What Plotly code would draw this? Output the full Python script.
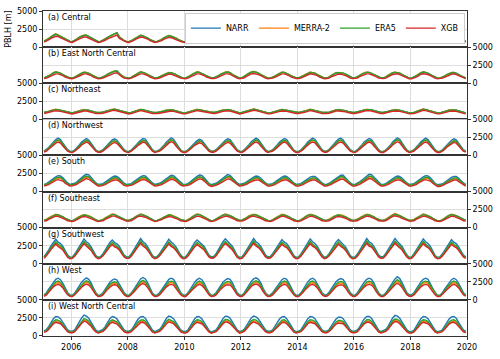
import pandas as pd
import plotly.graph_objects as go
from plotly.subplots import make_subplots

# monthly mean PBLH, Jan 2005 .. Dec 2019, one row per year, units of 10 m
regions = ["Central", "East North Central", "Northeast", "Northwest", "South",
           "Southeast", "Southwest", "West", "West North Central"]
products = ["NARR", "MERRA-2", "ERA5", "XGB"]
colors = ["#1f77b4", "#ff7f0e", "#2ca02c", "#d62728"]

central_narr = [
    [85,95,115,140,160,175,165,150,130,110,90,80], [75,90,110,135,150,160,165,145,125,105,85,75],
    [80,95,110,130,150,165,180,200,140,115,90,80], [75,85,105,125,145,160,155,145,125,105,85,75],
    [80,90,105,125,140,155,150,140,125,105,85,75], [75,90,110,135,150,165,160,150,130,110,90,80],
    [80,95,110,130,150,160,165,155,130,110,90,75], [80,100,125,150,165,175,170,150,125,105,85,75],
    [75,85,100,125,145,155,160,150,130,110,90,80], [80,90,105,130,145,160,155,145,130,110,85,75],
    [80,95,115,135,150,155,150,145,135,115,95,80], [80,95,115,135,150,160,160,150,130,115,90,80],
    [80,95,115,135,150,160,155,150,130,110,90,75], [75,85,105,130,155,165,160,150,130,110,85,75],
    [75,85,100,125,140,150,155,150,130,110,90,80]]
central_merra = [
    [85,100,120,145,170,185,170,150,130,110,90,80], [75,90,115,140,155,165,165,145,125,105,85,75],
    [80,95,115,135,155,170,180,190,140,115,90,80], [75,90,110,130,150,165,155,145,125,105,85,75],
    [80,90,110,130,145,160,150,140,125,105,85,75], [75,90,115,140,155,170,160,150,130,110,90,80],
    [80,95,115,135,155,165,165,155,130,110,90,75], [80,100,130,155,170,180,170,150,125,105,85,75],
    [75,90,105,130,150,160,160,150,130,110,90,80], [80,90,110,135,150,165,155,145,130,110,85,75],
    [80,95,120,140,155,160,150,145,135,115,95,80], [80,95,120,140,155,165,160,150,130,115,90,80],
    [80,95,120,140,155,165,160,150,130,110,90,75], [75,90,110,135,160,170,160,150,130,110,85,75],
    [75,85,105,130,145,155,155,150,130,110,90,80]]
central_era5 = [
    [85,95,120,145,165,180,170,150,130,110,90,80], [75,90,110,140,155,165,165,145,125,105,85,75],
    [80,95,110,135,155,170,185,195,140,115,90,80], [75,85,105,130,150,165,155,145,125,105,85,75],
    [80,90,105,130,145,160,150,140,125,105,85,75], [75,90,110,135,155,170,160,150,130,110,90,80],
    [80,95,110,135,155,165,165,155,130,110,90,75], [80,100,125,155,170,180,170,150,125,105,85,75],
    [75,85,100,130,150,160,160,150,130,110,90,80], [80,90,105,130,150,165,155,145,130,110,85,75],
    [80,95,115,140,155,160,150,145,135,115,95,80], [80,95,115,140,155,165,160,150,130,115,90,80],
    [80,95,115,140,155,165,155,150,130,110,90,75], [75,85,105,135,160,170,160,150,130,110,85,75],
    [75,85,100,130,145,155,155,150,130,110,90,80]]
central_xgb = [
    [70,80,100,120,140,150,145,130,115,95,75,70], [65,75,95,115,130,140,140,125,110,90,75,65],
    [70,80,95,115,130,145,155,165,120,100,80,70], [65,75,90,110,125,140,135,125,110,90,75,65],
    [70,75,90,110,120,135,130,120,110,90,75,65], [65,75,95,115,130,145,140,130,115,95,80,70],
    [70,80,95,115,130,140,140,135,115,95,80,65], [70,85,110,130,145,150,145,130,110,90,75,65],
    [65,75,85,110,125,135,140,130,115,95,80,70], [70,75,90,110,125,140,135,125,115,95,75,65],
    [70,80,100,120,130,135,130,125,115,100,80,70], [70,80,100,120,130,140,140,130,115,100,80,70],
    [70,80,100,120,130,140,135,130,115,95,80,65], [65,75,90,115,135,145,140,130,115,95,75,65],
    [65,75,85,110,120,130,135,130,115,95,80,70]]

enc_narr = [
    [75,85,100,120,140,155,150,140,120,100,85,75], [70,80,100,120,135,150,150,140,120,100,80,70],
    [75,85,100,120,140,155,165,170,130,105,85,75], [70,80,95,115,135,155,150,140,120,100,80,70],
    [75,85,100,115,130,145,145,135,120,100,80,70], [70,80,100,120,140,155,150,140,120,100,85,75],
    [75,85,100,120,140,150,155,145,120,100,85,70], [75,90,115,135,150,160,155,140,120,100,80,70],
    [70,80,95,115,135,150,150,140,120,100,85,75], [75,85,100,120,135,150,145,140,120,100,80,70],
    [75,85,105,125,140,145,145,140,125,105,85,75], [75,85,105,125,140,150,150,140,120,105,85,75],
    [75,85,105,125,140,150,150,140,120,100,85,70], [70,80,100,120,145,155,150,140,120,100,80,70],
    [70,80,95,115,130,145,150,140,120,100,85,75]]
enc_merra = [
    [75,85,105,125,145,160,150,140,120,100,85,75], [70,80,105,125,140,155,150,140,120,100,80,70],
    [75,85,105,125,145,160,165,165,130,105,85,75], [70,80,100,120,140,160,150,140,120,100,80,70],
    [75,85,105,120,135,150,145,135,120,100,80,70], [70,80,105,125,145,160,150,140,120,100,85,75],
    [75,85,105,125,145,155,155,145,120,100,85,70], [75,90,120,140,155,165,155,140,120,100,80,70],
    [70,80,100,120,140,155,150,140,120,100,85,75], [75,85,105,125,140,155,145,140,120,100,80,70],
    [75,85,110,130,145,150,145,140,125,105,85,75], [75,85,110,130,145,155,150,140,120,105,85,75],
    [75,85,110,130,145,155,150,140,120,100,85,70], [70,80,105,125,150,160,150,140,120,100,80,70],
    [70,80,100,120,135,150,150,140,120,100,85,75]]
enc_era5 = [
    [75,85,100,120,145,155,150,140,120,100,85,75], [70,80,100,120,140,150,150,140,120,100,80,70],
    [75,85,100,125,140,155,165,170,130,105,85,75], [70,80,95,120,140,155,150,140,120,100,80,70],
    [75,85,100,120,135,145,145,135,120,100,80,70], [70,80,100,125,145,155,150,140,120,100,85,75],
    [75,85,100,125,140,150,155,145,120,100,85,70], [75,90,115,135,155,160,155,140,120,100,80,70],
    [70,80,95,120,140,150,150,140,120,100,85,75], [75,85,100,120,140,150,145,140,120,100,80,70],
    [75,85,105,125,145,145,145,140,125,105,85,75], [75,85,105,130,145,150,150,140,120,105,85,75],
    [75,85,105,125,145,150,150,140,120,100,85,70], [70,80,100,125,145,155,150,140,120,100,80,70],
    [70,80,95,120,135,145,150,140,120,100,85,75]]
enc_xgb = [
    [65,70,85,100,120,130,130,120,105,85,70,65], [60,70,85,100,115,130,130,120,105,85,70,60],
    [65,70,85,100,120,130,140,145,110,90,70,65], [60,70,80,100,115,130,130,120,105,85,70,60],
    [65,70,85,100,110,125,125,115,105,85,70,60], [60,70,85,100,120,130,130,120,105,85,70,65],
    [65,70,85,100,120,130,130,125,105,85,70,60], [65,75,95,115,130,135,130,120,105,85,70,60],
    [60,70,80,100,115,130,130,120,105,85,70,65], [65,70,85,100,115,130,125,120,105,85,70,60],
    [65,70,90,105,120,125,125,120,105,90,70,65], [65,70,90,105,120,130,130,120,105,90,70,65],
    [65,70,90,105,120,130,130,120,105,85,70,60], [60,70,85,100,125,130,130,120,105,85,70,60],
    [60,70,80,100,110,125,130,120,105,85,70,65]]

ne_narr = [
    [95,100,110,120,130,135,130,125,115,105,100,95], [90,100,110,120,125,130,130,125,115,105,95,90],
    [95,100,110,115,125,135,140,130,120,110,100,90], [90,95,105,120,130,135,130,125,115,105,95,90],
    [95,100,105,115,125,130,130,125,115,105,95,90], [90,100,110,120,130,135,130,125,115,105,100,95],
    [95,100,110,120,125,130,135,130,120,110,100,90], [95,105,115,125,135,140,135,125,115,105,95,90],
    [90,95,105,115,125,130,130,125,115,105,100,95], [95,100,105,115,125,135,130,125,115,105,95,90],
    [95,100,110,120,130,130,130,130,120,110,100,95], [95,100,110,120,130,135,135,130,120,110,100,95],
    [95,100,110,120,125,130,130,125,120,110,100,90], [90,95,105,120,130,140,135,125,115,105,95,90],
    [90,95,105,115,125,130,130,125,115,105,95,90]]
ne_merra = [
    [95,100,110,125,135,140,135,125,115,105,100,95], [90,100,110,125,130,135,130,125,115,105,95,90],
    [95,100,110,120,130,140,140,130,120,110,100,90], [90,95,105,125,135,140,130,125,115,105,95,90],
    [95,100,105,120,130,135,130,125,115,105,95,90], [90,100,110,125,135,140,130,125,115,105,100,95],
    [95,100,110,125,130,135,135,130,120,110,100,90], [95,105,115,130,140,145,135,125,115,105,95,90],
    [90,95,105,120,130,135,130,125,115,105,100,95], [95,100,105,120,130,140,130,125,115,105,95,90],
    [95,100,110,125,135,135,130,130,120,110,100,95], [95,100,110,125,135,140,135,130,120,110,100,95],
    [95,100,110,125,130,135,130,125,120,110,100,90], [90,95,105,125,135,145,135,125,115,105,95,90],
    [90,95,105,120,130,135,130,125,115,105,95,90]]
ne_era5 = [
    [95,100,110,120,130,135,135,125,115,105,100,95], [90,100,110,120,130,130,130,125,115,105,95,90],
    [95,100,110,120,125,135,140,130,120,110,100,90], [90,95,105,120,130,135,135,125,115,105,95,90],
    [95,100,105,115,125,130,130,125,115,105,95,90], [90,100,110,120,130,135,135,125,115,105,100,95],
    [95,100,110,120,130,130,135,130,120,110,100,90], [95,105,115,125,135,140,135,125,115,105,95,90],
    [90,95,105,115,125,135,130,125,115,105,100,95], [95,100,105,120,125,135,130,125,115,105,95,90],
    [95,100,110,120,130,135,130,130,120,110,100,95], [95,100,110,120,130,135,135,130,120,110,100,95],
    [95,100,110,120,130,130,130,125,120,110,100,90], [90,95,105,120,130,140,135,125,115,105,95,90],
    [90,95,105,115,125,130,130,125,115,105,95,90]]
ne_xgb = [
    [80,85,95,105,115,120,115,110,100,90,85,80], [75,85,95,105,110,115,115,110,100,90,80,75],
    [80,85,95,100,110,120,125,115,105,95,85,75], [75,80,90,105,115,120,115,110,100,90,80,75],
    [80,85,90,100,110,115,115,110,100,90,80,75], [75,85,95,105,115,120,115,110,100,90,85,80],
    [80,85,95,105,110,115,120,115,105,95,85,75], [80,90,100,110,120,125,120,110,100,90,80,75],
    [75,80,90,100,110,115,115,110,100,90,85,80], [80,85,90,100,110,120,115,110,100,90,80,75],
    [80,85,95,105,115,115,115,115,105,95,85,80], [80,85,95,105,115,120,120,115,105,95,85,80],
    [80,85,95,105,110,115,115,110,105,95,85,75], [75,80,90,105,115,125,120,110,100,90,80,75],
    [75,80,90,100,110,115,115,110,100,90,80,75]]

nw_narr = [
    [60,80,110,150,190,220,240,220,170,120,80,60], [55,75,105,145,185,215,235,215,165,115,75,55],
    [60,80,110,150,190,215,230,210,165,115,80,60], [55,75,100,140,180,210,235,225,175,120,80,55],
    [60,80,105,145,185,220,245,225,170,115,75,55], [55,75,105,140,180,205,225,210,165,115,80,60],
    [60,80,110,145,180,210,230,220,175,120,80,60], [55,80,110,150,190,215,240,220,170,120,80,55],
    [60,80,105,145,185,215,235,220,170,115,75,55], [55,75,105,145,185,220,240,225,175,120,80,60],
    [60,85,115,155,195,225,240,215,165,115,80,60], [55,80,110,150,190,215,235,220,170,120,80,55],
    [55,75,100,140,185,220,245,225,170,115,75,55], [60,80,110,150,190,220,240,220,170,115,80,55],
    [55,75,105,145,180,210,230,215,170,120,80,60]]
nw_merra = [
    [55,70,95,130,165,195,210,195,150,105,70,55], [50,65,95,130,165,190,205,190,145,100,65,50],
    [55,70,95,130,165,190,200,185,145,100,70,55], [50,65,90,125,160,185,205,195,155,105,70,50],
    [55,70,95,130,165,195,215,200,150,100,65,50], [50,65,95,125,160,180,200,185,145,100,70,55],
    [55,70,95,130,160,185,200,195,155,105,70,55], [50,70,95,130,165,190,210,195,150,105,70,50],
    [55,70,95,130,165,190,205,195,150,100,65,50], [50,65,95,130,165,195,210,200,155,105,70,55],
    [55,75,100,135,170,200,210,190,145,100,70,55], [50,70,95,130,165,190,205,195,150,105,70,50],
    [50,65,90,125,165,195,215,200,150,100,65,50], [55,70,95,130,165,195,210,195,150,100,70,50],
    [50,65,95,130,160,185,200,190,150,105,70,55]]
nw_era5 = [
    [55,70,100,135,170,200,215,200,155,110,70,55], [50,70,95,130,165,195,210,195,150,105,70,50],
    [55,70,100,135,170,195,205,190,150,105,70,55], [50,70,90,125,160,190,210,200,155,110,70,50],
    [55,70,95,130,165,200,220,200,155,105,70,50], [50,70,95,125,160,185,205,190,150,105,70,55],
    [55,70,100,130,160,190,205,200,155,110,70,55], [50,70,100,135,170,195,215,200,155,110,70,50],
    [55,70,95,130,165,195,210,200,155,105,70,50], [50,70,95,130,165,200,215,205,155,110,70,55],
    [55,75,105,140,175,205,215,195,150,105,70,55], [50,70,100,135,170,195,210,200,155,110,70,50],
    [50,70,90,125,165,200,220,205,155,105,70,50], [55,70,100,135,170,200,215,200,155,105,70,50],
    [50,70,95,130,160,190,205,195,155,110,70,55]]
nw_xgb = [
    [45,60,85,115,150,170,185,170,130,90,60,45], [40,60,80,110,145,170,185,170,130,90,60,45],
    [45,60,85,115,145,165,180,165,130,90,60,45], [40,60,80,110,140,165,185,175,135,95,60,40],
    [45,60,80,115,145,170,190,175,130,90,60,40], [40,60,80,110,140,160,175,165,130,90,60,45],
    [45,60,85,110,140,165,180,170,135,95,60,45], [40,60,85,115,150,170,185,170,130,95,60,40],
    [45,60,80,115,145,170,185,170,130,90,60,40], [40,60,80,115,145,170,185,175,135,95,60,45],
    [45,65,90,120,150,175,185,170,130,90,60,45], [40,60,85,115,150,170,185,170,130,95,60,40],
    [40,60,80,110,145,170,190,175,130,90,60,40], [45,60,85,115,150,170,185,170,130,90,60,40],
    [40,60,80,115,140,165,180,170,130,95,60,45]]

south_narr = [
    [100,110,130,155,185,205,220,215,190,150,120,100], [105,115,135,165,195,220,240,230,195,155,120,100],
    [100,110,130,155,180,200,215,210,185,150,115,100], [100,110,135,160,185,205,220,215,185,150,120,100],
    [105,115,130,155,185,205,225,220,190,150,120,100], [100,110,130,160,190,210,230,225,190,150,115,95],
    [100,115,135,160,190,215,235,225,190,150,120,100], [105,115,135,160,185,200,215,210,185,150,120,100],
    [100,110,130,155,180,200,215,210,185,150,120,100], [100,110,130,155,180,200,210,210,185,150,120,100],
    [100,115,135,160,185,205,225,225,195,155,120,100], [100,115,135,160,185,210,240,235,200,155,120,100],
    [100,110,130,155,180,200,215,210,185,150,120,100], [100,110,130,160,185,205,220,215,190,150,115,95],
    [95,105,125,150,175,195,210,210,185,150,120,100]]
south_merra = [
    [85,95,110,130,155,175,185,185,160,130,100,85], [90,100,115,140,165,185,200,195,165,130,100,85],
    [85,95,110,130,155,170,180,180,155,125,100,85], [85,95,115,135,155,175,185,185,155,130,100,85],
    [90,100,110,130,155,175,190,185,160,130,100,85], [85,95,110,135,160,180,195,190,160,130,100,80],
    [85,100,115,135,160,185,200,190,160,130,100,85], [90,100,115,135,155,170,185,180,155,130,100,85],
    [85,95,110,130,155,170,180,180,155,130,100,85], [85,95,110,130,155,170,180,180,155,130,100,85],
    [85,100,115,135,155,175,190,190,165,130,100,85], [85,100,115,135,155,180,200,200,170,130,100,85],
    [85,95,110,130,155,170,180,180,155,130,100,85], [85,95,110,135,155,175,185,185,160,130,100,80],
    [80,90,105,130,150,165,180,180,155,130,100,85]]
south_era5 = [
    [90,100,115,140,165,185,200,195,170,135,105,90], [95,105,120,150,175,200,215,205,175,140,110,90],
    [90,100,115,140,160,180,195,190,165,135,105,90], [90,100,120,145,165,185,200,195,165,135,110,90],
    [95,105,115,140,165,185,205,200,170,135,110,90], [90,100,115,145,170,190,205,200,170,135,105,85],
    [90,105,120,145,170,195,210,205,170,135,110,90], [95,105,120,145,165,180,195,190,165,135,110,90],
    [90,100,115,140,160,180,195,190,165,135,110,90], [90,100,115,140,160,180,190,190,165,135,110,90],
    [90,105,120,145,165,185,205,205,175,140,110,90], [90,105,120,145,165,190,215,210,180,140,110,90],
    [90,100,115,140,160,180,195,190,165,135,110,90], [90,100,115,145,165,185,200,195,170,135,105,85],
    [85,95,110,135,155,175,190,190,165,135,110,90]]
south_xgb = [
    [75,85,95,115,140,155,165,160,145,115,90,75], [80,85,100,125,145,165,180,170,145,115,90,75],
    [75,85,95,115,135,150,160,160,140,115,85,75], [75,85,100,120,140,155,165,160,140,115,90,75],
    [80,85,95,115,140,155,170,165,145,115,90,75], [75,85,95,120,145,160,175,170,145,115,85,70],
    [75,85,100,120,145,160,175,170,145,115,90,75], [80,85,100,120,140,150,160,160,140,115,90,75],
    [75,85,95,115,135,150,160,160,140,115,90,75], [75,85,95,115,135,150,160,160,140,115,90,75],
    [75,85,100,120,140,155,170,170,145,115,90,75], [75,85,100,120,140,160,180,175,150,115,90,75],
    [75,85,95,115,135,150,160,160,140,115,90,75], [75,85,95,120,140,155,165,160,145,115,85,70],
    [70,80,95,115,130,145,160,160,140,115,90,75]]

se_narr = [
    [100,110,130,150,170,180,175,165,150,130,110,100], [95,110,130,150,165,175,170,160,145,125,110,95],
    [100,110,130,150,170,185,180,165,150,130,110,100], [100,110,130,155,175,185,175,165,150,130,110,95],
    [100,110,125,145,165,175,170,160,150,130,110,100], [95,105,125,150,170,185,180,165,150,130,110,95],
    [100,115,135,155,175,185,175,165,150,130,110,100], [105,115,135,160,175,180,175,160,145,125,110,100],
    [95,105,125,145,165,180,175,165,150,130,110,100], [95,105,125,150,170,180,175,165,150,130,110,100],
    [100,110,130,150,165,175,170,165,150,130,110,100], [100,110,130,150,170,180,175,165,150,130,110,100],
    [100,110,130,155,175,190,180,165,150,130,110,100], [100,110,130,150,170,185,175,165,150,130,110,95],
    [95,105,125,150,170,180,175,165,150,130,110,100]]
se_merra = [
    [100,115,135,155,175,185,180,170,150,130,110,100], [95,110,135,155,170,180,175,165,150,125,110,95],
    [100,115,135,155,175,190,185,170,150,130,110,100], [100,115,135,160,180,190,180,170,150,130,110,95],
    [100,110,130,150,170,180,175,165,150,130,110,100], [95,110,130,155,175,190,185,170,150,130,110,95],
    [100,115,140,160,180,190,180,170,150,130,110,100], [105,120,140,165,180,185,180,165,150,125,110,100],
    [95,110,130,150,170,185,180,170,150,130,110,100], [95,110,130,155,175,185,180,170,150,130,110,100],
    [100,115,135,155,170,180,175,170,150,130,110,100], [100,115,135,155,175,185,180,170,150,130,110,100],
    [100,115,135,160,180,195,185,170,150,130,110,100], [100,115,135,155,175,190,180,170,150,130,110,95],
    [95,110,130,155,175,185,180,170,150,130,110,100]]
se_era5 = [
    [100,110,130,150,170,180,175,165,150,130,110,100], [95,110,130,150,165,175,170,160,145,125,110,95],
    [100,110,130,150,170,180,180,165,150,130,110,100], [100,110,130,150,170,180,175,165,150,130,110,95],
    [100,110,125,145,165,175,170,160,150,130,110,100], [95,105,125,150,170,180,180,165,150,130,110,95],
    [100,115,135,155,175,180,175,165,150,130,110,100], [105,115,135,155,170,180,175,160,145,125,110,100],
    [95,105,125,145,165,175,175,165,150,130,110,100], [95,105,125,150,170,180,175,165,150,130,110,100],
    [100,110,130,150,165,175,170,165,150,130,110,100], [100,110,130,150,170,180,175,165,150,130,110,100],
    [100,110,130,155,175,185,180,165,150,130,110,100], [100,110,130,150,170,180,175,165,150,130,110,95],
    [95,105,125,150,170,180,175,165,150,130,110,100]]
se_xgb = [
    [90,95,115,130,150,160,155,145,130,115,95,90], [85,95,115,130,145,155,150,140,130,110,95,85],
    [90,95,115,130,150,160,160,145,130,115,95,90], [90,95,115,135,155,160,155,145,130,115,95,85],
    [90,95,110,130,145,155,150,140,130,115,95,90], [85,95,110,130,150,160,155,145,130,115,95,85],
    [90,100,120,135,155,160,155,145,130,115,95,90], [90,100,120,140,155,160,155,140,130,110,95,90],
    [85,95,110,130,145,160,155,145,130,115,95,90], [85,95,110,130,150,160,155,145,130,115,95,90],
    [90,95,115,130,145,155,150,145,130,115,95,90], [90,95,115,130,150,160,155,145,130,115,95,90],
    [90,95,115,135,155,165,160,145,130,115,95,90], [90,95,115,130,150,160,155,145,130,115,95,85],
    [85,95,110,130,150,160,155,145,130,115,95,90]]

sw_narr = [
    [100,140,190,250,300,340,300,280,240,180,120,90], [95,135,185,245,300,345,305,280,235,175,115,90],
    [100,140,190,245,295,330,295,275,240,180,120,95], [95,135,185,250,305,350,305,280,235,175,115,90],
    [100,140,190,250,300,340,300,275,235,175,120,90], [95,135,185,245,295,330,300,280,240,180,120,95],
    [100,140,195,255,305,345,310,285,240,180,115,90], [95,140,190,250,305,350,305,280,240,180,120,95],
    [100,140,190,245,295,335,300,280,235,175,115,90], [95,135,185,245,300,345,305,280,240,180,120,90],
    [100,140,190,250,300,335,300,275,235,175,115,90], [95,135,185,250,305,350,305,285,240,180,120,95],
    [100,145,195,255,305,350,310,280,240,180,120,90], [95,140,190,250,300,345,305,280,240,180,115,90],
    [95,135,185,245,295,335,300,280,235,180,120,95]]
sw_merra = [
    [85,115,160,210,250,285,255,235,200,150,100,75], [80,115,155,205,250,290,255,235,195,145,95,75],
    [85,115,160,205,250,275,250,230,200,150,100,80], [80,115,155,210,255,295,255,235,195,145,95,75],
    [85,115,160,210,250,285,250,230,195,145,100,75], [80,115,155,205,250,275,250,235,200,150,100,80],
    [85,115,165,215,255,290,260,240,200,150,95,75], [80,115,160,210,255,295,255,235,200,150,100,80],
    [85,115,160,205,250,280,250,235,195,145,95,75], [80,115,155,205,250,290,255,235,200,150,100,75],
    [85,115,160,210,250,280,250,230,195,145,95,75], [80,115,155,210,255,295,255,240,200,150,100,80],
    [85,120,165,215,255,295,260,235,200,150,100,75], [80,115,160,210,250,290,255,235,200,150,95,75],
    [80,115,155,205,250,280,250,235,195,150,100,80]]
sw_era5 = [
    [90,125,170,225,270,305,270,250,215,160,110,80], [85,120,165,220,270,310,275,250,210,155,105,80],
    [90,125,170,220,265,295,265,245,215,160,110,85], [85,120,165,225,275,315,275,250,210,155,105,80],
    [90,125,170,225,270,305,270,245,210,155,110,80], [85,120,165,220,265,295,270,250,215,160,110,85],
    [90,125,175,230,275,310,280,255,215,160,105,80], [85,125,170,225,275,315,275,250,215,160,110,85],
    [90,125,170,220,265,300,270,250,210,155,105,80], [85,120,165,220,270,310,275,250,215,160,110,80],
    [90,125,170,225,270,300,270,245,210,155,105,80], [85,120,165,225,275,315,275,255,215,160,110,85],
    [90,130,175,230,275,315,280,250,215,160,110,80], [85,125,170,225,270,310,275,250,215,160,105,80],
    [85,120,165,220,265,300,270,250,210,160,110,85]]
sw_xgb = [
    [75,110,150,200,240,275,240,220,190,140,90,70], [75,105,145,195,240,280,245,220,185,135,90,70],
    [80,110,150,195,235,265,235,220,190,140,95,75], [75,105,145,200,245,285,245,225,185,135,90,70],
    [80,110,150,200,240,275,240,220,185,135,95,70], [75,105,145,195,235,265,240,225,190,140,95,75],
    [80,110,155,205,245,280,250,225,190,140,90,70], [75,110,150,200,245,285,245,225,190,140,95,75],
    [80,110,150,195,235,270,240,225,185,135,90,70], [75,105,145,195,240,280,245,225,190,140,95,70],
    [80,110,150,200,240,270,240,220,185,135,90,70], [75,105,145,200,245,285,245,230,190,140,95,75],
    [80,115,155,205,245,285,250,225,190,140,95,70], [75,110,150,200,240,280,245,225,190,140,90,70],
    [75,105,145,195,235,270,240,225,185,140,95,75]]

west_narr = [
    [70,100,150,200,250,285,300,280,230,160,100,70], [65,95,145,195,245,280,305,285,235,165,100,65],
    [70,100,150,200,245,275,290,275,225,160,100,70], [65,95,140,195,250,290,310,290,235,160,95,65],
    [70,100,145,200,250,285,300,285,230,160,100,70], [65,95,145,195,245,280,300,280,230,160,100,65],
    [70,100,150,200,245,275,295,285,235,165,100,70], [65,100,150,205,255,290,305,285,235,160,100,65],
    [70,100,145,195,245,280,300,285,230,160,100,65], [65,95,145,200,250,285,300,280,230,165,100,70],
    [70,105,155,205,250,280,295,280,230,160,100,70], [65,100,150,200,250,285,300,285,235,160,100,65],
    [65,95,145,200,250,290,320,295,235,165,100,70], [70,100,150,200,250,285,300,285,230,160,100,65],
    [65,95,145,195,245,280,300,280,230,160,100,70]]
west_merra = [
    [55,80,120,160,200,230,240,225,185,130,80,55], [50,75,115,155,195,225,245,230,190,130,80,50],
    [55,80,120,160,195,220,230,220,180,130,80,55], [50,75,110,155,200,230,250,230,190,130,75,50],
    [55,80,115,160,200,230,240,230,185,130,80,55], [50,75,115,155,195,225,240,225,185,130,80,50],
    [55,80,120,160,195,220,235,230,190,130,80,55], [50,80,120,165,205,230,245,230,190,130,80,50],
    [55,80,115,155,195,225,240,230,185,130,80,50], [50,75,115,160,200,230,240,225,185,130,80,55],
    [55,85,125,165,200,225,235,225,185,130,80,55], [50,80,120,160,200,230,240,230,190,130,80,50],
    [50,75,115,160,200,230,255,235,190,130,80,55], [55,80,120,160,200,230,240,230,185,130,80,50],
    [50,75,115,155,195,225,240,225,185,130,80,55]]
west_era5 = [
    [60,85,130,175,215,250,260,245,200,140,85,60], [55,85,125,170,215,245,265,250,205,145,85,55],
    [60,85,130,175,215,240,250,240,195,140,85,60], [55,85,120,170,215,250,270,250,205,140,85,55],
    [60,85,125,175,215,250,260,250,200,140,85,60], [55,85,125,170,215,245,260,245,200,140,85,55],
    [60,85,130,175,215,240,255,250,205,145,85,60], [55,85,130,180,220,250,265,250,205,140,85,55],
    [60,85,125,170,215,245,260,250,200,140,85,55], [55,85,125,175,215,250,260,245,200,145,85,60],
    [60,90,135,180,215,245,255,245,200,140,85,60], [55,85,130,175,215,250,260,250,205,140,85,55],
    [55,85,125,175,215,250,280,255,205,145,85,60], [60,85,130,175,215,250,260,250,200,140,85,55],
    [55,85,125,170,215,245,260,245,200,140,85,60]]
west_xgb = [
    [50,70,105,145,180,205,215,200,165,115,70,50], [45,70,105,140,175,200,220,205,170,120,70,45],
    [50,70,110,145,175,200,210,200,160,115,70,50], [45,70,100,140,180,210,225,210,170,115,70,45],
    [50,70,105,145,180,205,215,205,165,115,70,50], [45,70,105,140,175,200,215,200,165,115,70,45],
    [50,70,110,145,175,200,210,205,170,120,70,50], [45,70,110,150,185,210,220,205,170,115,70,45],
    [50,70,105,140,175,200,215,205,165,115,70,45], [45,70,105,145,180,205,215,200,165,120,70,50],
    [50,75,110,150,180,200,210,200,165,115,70,50], [45,70,110,145,180,205,215,205,170,115,70,45],
    [45,70,105,145,180,210,230,210,170,120,70,50], [50,70,110,145,180,205,215,205,165,115,70,45],
    [45,70,105,140,175,200,215,200,165,115,70,50]]

wnc_narr = [
    [70,90,130,190,240,270,265,240,190,130,85,65], [65,85,130,195,250,290,275,245,190,130,80,60],
    [70,90,130,190,240,270,260,235,185,130,85,65], [65,85,125,185,235,265,270,245,190,130,80,60],
    [70,90,130,190,245,275,265,240,190,130,85,65], [60,80,125,190,240,270,265,240,190,130,80,55],
    [65,85,130,190,240,275,270,245,195,135,85,60], [70,95,140,200,250,275,265,235,185,130,85,65],
    [65,85,125,185,235,265,270,240,190,130,80,60], [65,85,130,190,240,270,265,240,190,130,85,65],
    [65,90,130,190,235,260,260,240,190,135,85,65], [65,85,125,190,240,270,270,245,190,130,80,60],
    [70,90,130,195,250,285,275,245,190,130,85,60], [60,80,125,185,240,270,265,240,190,130,80,60],
    [65,85,125,185,235,265,270,245,190,130,85,65]]
wnc_merra = [
    [55,70,100,145,180,205,200,185,145,100,65,50], [50,65,100,150,190,220,210,185,145,100,60,45],
    [55,70,100,145,180,205,200,180,140,100,65,50], [50,65,95,140,180,200,205,185,145,100,60,45],
    [55,70,100,145,185,210,200,185,145,100,65,50], [45,60,95,145,180,205,200,185,145,100,60,40],
    [50,65,100,145,180,210,205,185,150,105,65,45], [55,70,105,150,190,210,200,180,140,100,65,50],
    [50,65,95,140,180,200,205,185,145,100,60,45], [50,65,100,145,180,205,200,185,145,100,65,50],
    [50,70,100,145,180,200,200,185,145,105,65,50], [50,65,95,145,180,205,205,185,145,100,60,45],
    [55,70,100,150,190,215,210,185,145,100,65,45], [45,60,95,140,180,205,200,185,145,100,60,45],
    [50,65,95,140,180,200,205,185,145,100,65,50]]
wnc_era5 = [
    [60,75,110,160,200,225,220,200,160,110,70,55], [55,70,110,160,210,240,230,205,160,110,65,50],
    [60,75,110,160,200,225,215,195,155,110,70,55], [55,70,105,155,195,220,225,205,160,110,65,50],
    [60,75,110,160,205,230,220,200,160,110,70,55], [50,65,105,160,200,225,220,200,160,110,65,45],
    [55,70,110,160,200,230,225,205,160,110,70,50], [60,80,115,165,210,230,220,195,155,110,70,55],
    [55,70,105,155,195,220,225,200,160,110,65,50], [55,70,110,160,200,225,220,200,160,110,70,55],
    [55,75,110,160,195,215,215,200,160,110,70,55], [55,70,105,160,200,225,225,205,160,110,65,50],
    [60,75,110,160,210,235,230,205,160,110,70,50], [50,65,105,155,200,225,220,200,160,110,65,50],
    [55,70,105,155,195,220,225,205,160,110,70,55]]
wnc_xgb = [
    [50,65,90,135,170,190,185,170,135,90,60,45], [45,60,90,135,175,205,195,170,135,90,55,40],
    [50,65,90,135,170,190,180,165,130,90,60,45], [45,60,90,130,165,185,190,170,135,90,55,40],
    [50,65,90,135,170,195,185,170,135,90,60,45], [40,55,90,135,170,190,185,170,135,90,55,40],
    [45,60,90,135,170,195,190,170,135,95,60,40], [50,65,100,140,175,195,185,165,130,90,60,45],
    [45,60,90,130,165,185,190,170,135,90,55,40], [45,60,90,135,170,190,185,170,135,90,60,45],
    [45,65,90,135,165,180,180,170,135,95,60,45], [45,60,90,135,170,190,190,170,135,90,55,40],
    [50,65,90,135,175,200,195,170,135,90,60,40], [40,55,90,130,170,190,185,170,135,90,55,40],
    [45,60,90,130,165,185,190,170,135,90,60,45]]

pblh = {
    "Central": [central_narr, central_merra, central_era5, central_xgb],
    "East North Central": [enc_narr, enc_merra, enc_era5, enc_xgb],
    "Northeast": [ne_narr, ne_merra, ne_era5, ne_xgb],
    "Northwest": [nw_narr, nw_merra, nw_era5, nw_xgb],
    "South": [south_narr, south_merra, south_era5, south_xgb],
    "Southeast": [se_narr, se_merra, se_era5, se_xgb],
    "Southwest": [sw_narr, sw_merra, sw_era5, sw_xgb],
    "West": [west_narr, west_merra, west_era5, west_xgb],
    "West North Central": [wnc_narr, wnc_merra, wnc_era5, wnc_xgb],
}

dates = pd.date_range("2005-01-01", periods=180, freq="MS") + pd.Timedelta(days=14)

FONT = "DejaVu Sans"
FS = 8
fig = make_subplots(rows=9, cols=1, shared_xaxes=True, vertical_spacing=0)

for i, region in enumerate(regions):
    for k, name in enumerate(products):
        vals = [v * 10 for year in pblh[region][k] for v in year]
        assert len(vals) == 180, (region, name, len(vals))
        fig.add_trace(go.Scatter(x=dates, y=vals, mode="lines", name=name,
                                 line=dict(color=colors[k], width=1.4),
                                 showlegend=(i == 0)), row=i + 1, col=1)
    fig.add_annotation(text=f"({chr(97 + i)}) {region}", xref=f"x{i + 1} domain" if i else "x domain",
                       yref=f"y{i + 1} domain" if i else "y domain", x=0.008, y=1.0,
                       xanchor="left", yanchor="top", showarrow=False,
                       font=dict(family=FONT, size=FS, color="black"))
    fig.update_yaxes(range=[0, 5000], tickvals=[0, 2500, 5000], side="right" if i % 2 else "left",
                     showgrid=True, gridcolor="#dedede", gridwidth=1, zeroline=False,
                     showline=True, mirror=True, linecolor="#333", linewidth=1,
                     ticks="outside", ticklen=3, tickcolor="#333",
                     tickfont=dict(family=FONT, size=FS, color="black"), row=i + 1, col=1)
    fig.update_xaxes(range=["2005-01-01", "2020-01-01"],
                     tickvals=[f"{y}-01-01" for y in range(2006, 2021, 2)],
                     ticktext=[str(y) for y in range(2006, 2021, 2)],
                     showgrid=True, gridcolor="#dedede", gridwidth=1,
                     showline=True, mirror=True, linecolor="#333", linewidth=1,
                     ticks="outside", ticklen=3, tickcolor="#333",
                     tickfont=dict(family=FONT, size=FS, color="black"), row=i + 1, col=1)

fig.update_yaxes(title=dict(text="PBLH [m]", font=dict(family=FONT, size=FS, color="black"), standoff=4),
                 row=1, col=1)

fig.update_layout(
    width=500, height=359,
    margin=dict(l=40, r=30, t=7, b=16),
    plot_bgcolor="white", paper_bgcolor="white",
    font=dict(family=FONT, size=FS, color="black"),
    legend=dict(orientation="h", x=0.995, y=0.995, xanchor="right", yanchor="top",
                bgcolor="white", bordercolor="#cccccc", borderwidth=1,
                font=dict(family=FONT, size=FS), itemwidth=30, tracegroupgap=0),
)

# the page body has a default 8px margin; drop it so the 500x359 figure fills the window
fig.write_html("out.html", config={"displayModeBar": False},
               post_script="document.body.style.margin = '0';")
